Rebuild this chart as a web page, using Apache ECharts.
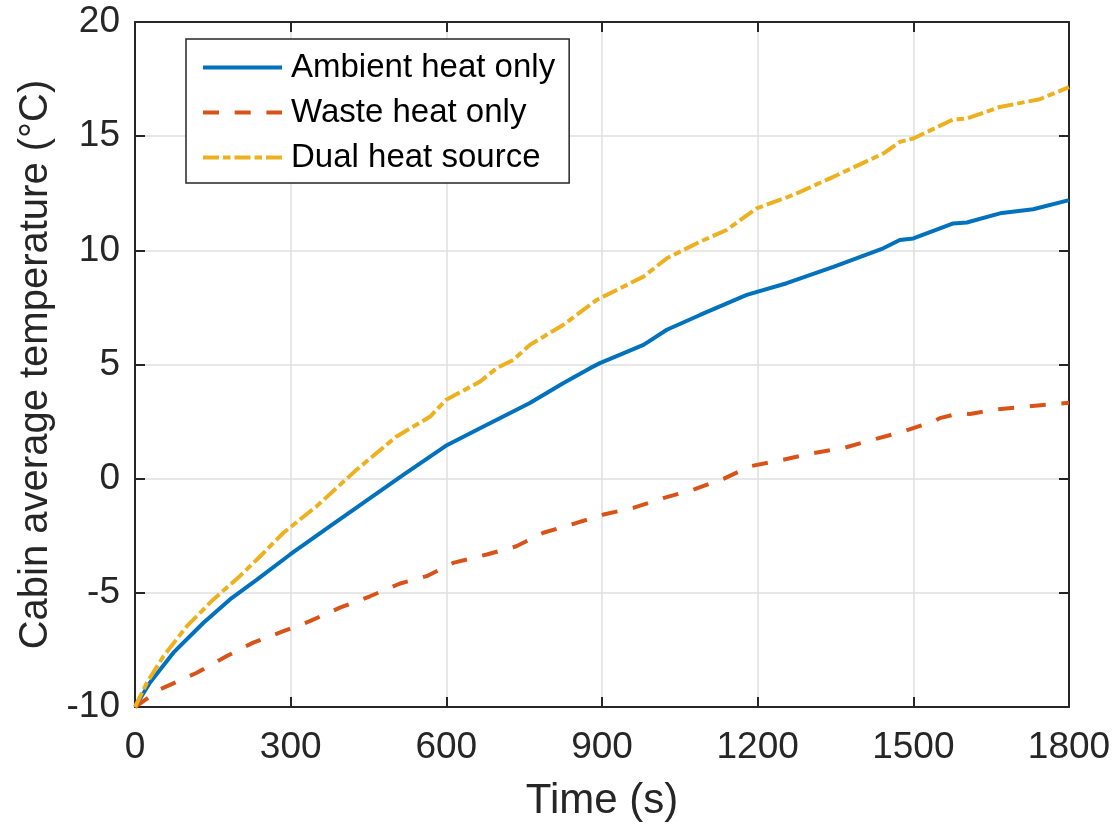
<!DOCTYPE html>
<html>
<head>
<meta charset="utf-8">
<title>Cabin average temperature</title>
<script src="https://cdn.jsdelivr.net/npm/echarts@6/dist/echarts.min.js"></script>
<style>
  html, body { margin: 0; padding: 0; background: #fff; }
  #chart { width: 1117px; height: 827px; }
</style>
</head>
<body>
<div id="chart"></div>
<script>
// Cabin warm-up curves: time (s) vs. cabin average temperature (°C)
const seriesNames = ['Ambient heat only', 'Waste heat only', 'Dual heat source'];

const ambientTime = [0, 29, 74, 132, 183, 235, 299, 376, 453, 517, 599, 665, 761, 825, 877, 896, 980, 1025, 1089, 1179, 1256, 1346, 1442, 1474, 1500, 1577, 1603, 1667, 1731, 1800];
const ambientTemp = [-10, -8.93, -7.62, -6.31, -5.29, -4.42, -3.32, -2.08, -0.85, 0.17, 1.44, 2.21, 3.31, 4.18, 4.84, 5.06, 5.86, 6.52, 7.17, 8.05, 8.56, 9.28, 10.09, 10.45, 10.52, 11.18, 11.22, 11.62, 11.80, 12.2];

const wasteTime = [0, 48, 119, 177, 228, 286, 337, 395, 453, 511, 562, 613, 678, 735, 787, 851, 903, 960, 1018, 1076, 1134, 1185, 1243, 1307, 1365, 1423, 1481, 1539, 1551, 1590, 1609, 1654, 1718, 1800];
const wasteTemp = [-10, -9.23, -8.5, -7.77, -7.18, -6.68, -6.24, -5.65, -5.15, -4.59, -4.27, -3.69, -3.32, -2.96, -2.37, -1.94, -1.57, -1.28, -0.85, -0.48, -0.01, 0.54, 0.8, 1.12, 1.34, 1.71, 2.07, 2.51, 2.65, 2.87, 2.83, 3.02, 3.16, 3.32];

const dualTime = [0, 23, 55, 100, 151, 202, 235, 286, 350, 427, 504, 569, 599, 665, 697, 729, 761, 825, 890, 980, 1025, 1089, 1140, 1198, 1268, 1346, 1442, 1474, 1500, 1577, 1603, 1667, 1744, 1800];
const dualTemp = [-10, -8.93, -7.77, -6.46, -5.29, -4.27, -3.54, -2.37, -1.21, 0.39, 1.85, 2.72, 3.45, 4.25, 4.84, 5.2, 5.86, 6.73, 7.83, 8.85, 9.65, 10.38, 10.89, 11.84, 12.42, 13.22, 14.24, 14.75, 14.9, 15.73, 15.77, 16.28, 16.62, 17.15];

const xTicks = { min: 0, max: 1800, step: 300 };
const yTicks = { min: -10, max: 20, step: 5 };

const FONT = "'Liberation Sans', Arial, Helvetica, sans-serif";
const AXIS_COLOR = '#262626';

function pairs(ts, vs) { return ts.map((t, i) => [t, vs[i]]); }
const plainNumber = v => String(v);

const chart = echarts.init(document.getElementById('chart'), null, { renderer: 'canvas' });

const boxAxisLine = { show: true, onZero: false, lineStyle: { color: AXIS_COLOR, width: 2 } };
const boxTick = { show: true, inside: true, length: 10, lineStyle: { color: AXIS_COLOR, width: 2 } };

chart.setOption({
  animation: false,
  backgroundColor: '#ffffff',
  textStyle: { fontFamily: FONT },
  grid: { left: 135, right: 48, top: 22, bottom: 119, containLabel: false },
  legend: {
    orient: 'vertical',
    left: 186,
    top: 39,
    padding: [12, 14, 9, 15],
    itemGap: 12,
    itemWidth: 79,
    itemHeight: 14,
    backgroundColor: '#ffffff',
    borderColor: AXIS_COLOR,
    borderWidth: 1.5,
    borderRadius: 0,
    itemStyle: { opacity: 0 },
    lineStyle: { width: 4 },
    textStyle: { fontFamily: FONT, fontSize: 33, color: '#000', padding: [0, 0, 0, 4], lineHeight: 33 },
    data: seriesNames
  },
  xAxis: [
    {
      type: 'value', min: xTicks.min, max: xTicks.max, interval: xTicks.step,
      name: 'Time (s)', nameLocation: 'middle', nameGap: 73,
      nameTextStyle: { fontFamily: FONT, fontSize: 42, color: AXIS_COLOR },
      axisLine: boxAxisLine, axisTick: boxTick,
      axisLabel: { fontFamily: FONT, fontSize: 37, color: AXIS_COLOR, margin: 22, formatter: plainNumber },
      splitLine: { show: true, lineStyle: { color: '#dfdfdf', width: 1.5 } }
    },
    {
      type: 'value', position: 'top', min: xTicks.min, max: xTicks.max, interval: xTicks.step,
      axisLine: boxAxisLine, axisTick: boxTick,
      axisLabel: { show: false }, splitLine: { show: false }
    }
  ],
  yAxis: [
    {
      type: 'value', min: yTicks.min, max: yTicks.max, interval: yTicks.step,
      name: 'Cabin average temperature (°C)', nameLocation: 'middle', nameGap: 74,
      nameTextStyle: { fontFamily: FONT, fontSize: 40, color: AXIS_COLOR },
      axisLine: boxAxisLine, axisTick: boxTick,
      axisLabel: { fontFamily: FONT, fontSize: 37, color: AXIS_COLOR, margin: 15, formatter: plainNumber },
      splitLine: { show: true, lineStyle: { color: '#dfdfdf', width: 1.5 } }
    },
    {
      type: 'value', position: 'right', min: yTicks.min, max: yTicks.max, interval: yTicks.step,
      axisLine: boxAxisLine, axisTick: boxTick,
      axisLabel: { show: false }, splitLine: { show: false }
    }
  ],
  series: [
    {
      name: seriesNames[0], type: 'line', symbol: 'none', smooth: false,
      data: pairs(ambientTime, ambientTemp),
      lineStyle: { color: '#0072BD', width: 4, type: 'solid' },
      itemStyle: { color: '#0072BD' }, z: 3
    },
    {
      name: seriesNames[1], type: 'line', symbol: 'none', smooth: false,
      data: pairs(wasteTime, wasteTemp),
      lineStyle: { color: '#D95319', width: 4, type: [16, 15.7] },
      itemStyle: { color: '#D95319' }, z: 3
    },
    {
      name: seriesNames[2], type: 'line', symbol: 'none', smooth: false,
      data: pairs(dualTime, dualTemp),
      lineStyle: { color: '#EDB120', width: 4, type: [16, 4, 7.5, 4] },
      itemStyle: { color: '#EDB120' }, z: 4
    }
  ]
});
</script>
</body>
</html>
